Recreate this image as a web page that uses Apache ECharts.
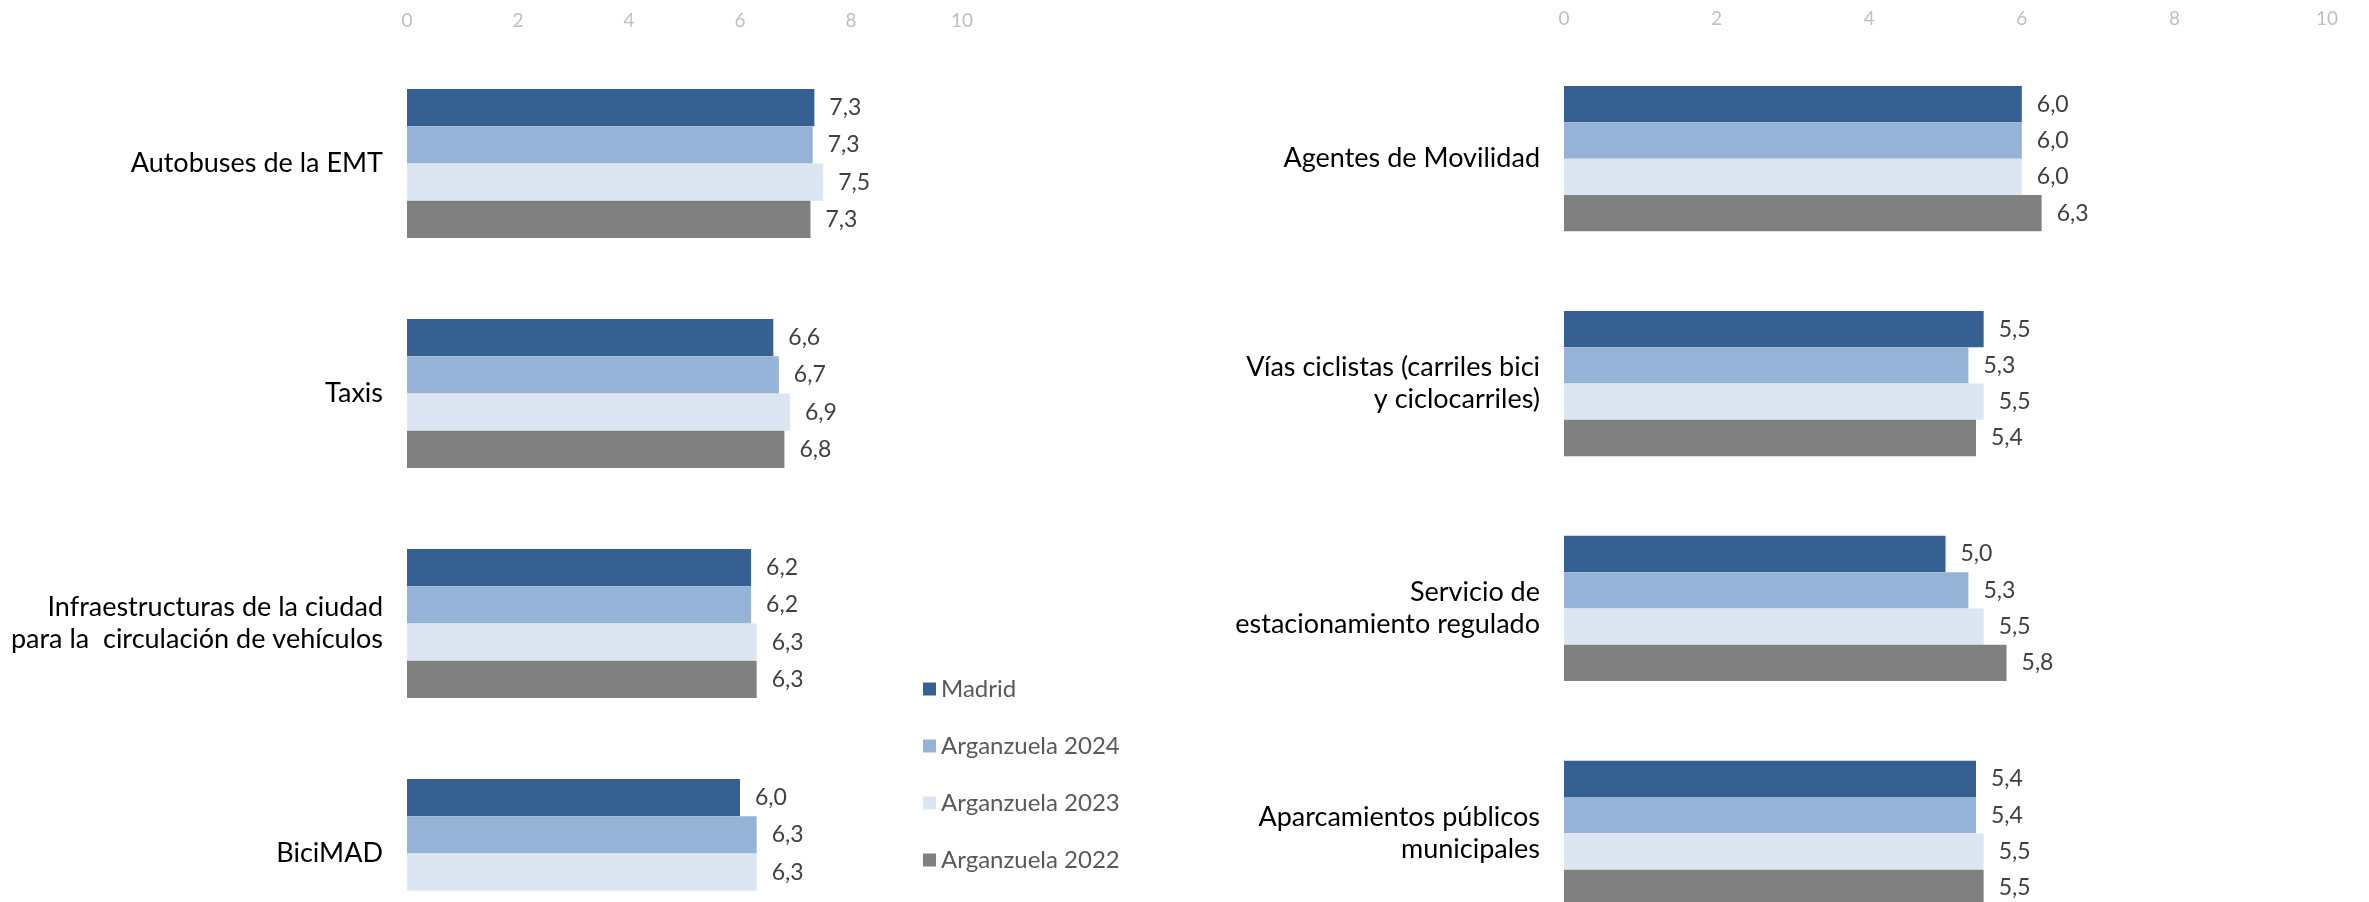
<!DOCTYPE html>
<html>
<head>
<meta charset="utf-8">
<script src="https://cdn.jsdelivr.net/npm/echarts@6/dist/echarts.min.js"></script>
<style>
  html, body { margin: 0; padding: 0; background: #fff; }
  #chart { width: 2369px; height: 902px; }
</style>
</head>
<body>
<div id="chart"></div>
<script>
const seriesNames = ['Madrid', 'Arganzuela 2024', 'Arganzuela 2023', 'Arganzuela 2022']
const colors = ['#376092', '#95B3D7', '#DCE6F2', '#808080']
const ticks = [0, 2, 4, 6, 8, 10]

const leftCategories = [
  'Autobuses de la EMT',
  'Taxis',
  'Infraestructuras de la ciudad\npara la  circulación de vehículos',
  'BiciMAD',
]
const leftMadrid = [7.34, 6.6, 6.2, 6.0]
const left2024 = [7.31, 6.7, 6.2, 6.3]
const left2023 = [7.5, 6.9, 6.3, 6.3]
const left2022 = [7.27, 6.8, 6.3, null]

const rightCategories = [
  'Agentes de Movilidad',
  'Vías ciclistas (carriles bici\ny ciclocarriles)',
  'Servicio de\nestacionamiento regulado',
  'Aparcamientos públicos\nmunicipales',
]
const rightMadrid = [6.0, 5.5, 5.0, 5.4]
const right2024 = [6.0, 5.3, 5.3, 5.4]
const right2023 = [6.0, 5.5, 5.5, 5.5]
const right2022 = [6.26, 5.4, 5.8, 5.5]

const font = 'Lato'

function valueAxis(gridIndex) {
  return {
    type: 'value',
    gridIndex,
    position: 'top',
    min: ticks[0],
    max: ticks[ticks.length - 1],
    interval: 2,
    axisLine: { show: false },
    axisTick: { show: false },
    splitLine: { show: false },
    axisLabel: { color: '#BFBFBF', fontFamily: font, fontSize: 19, margin: 18 },
  }
}

function categoryAxis(gridIndex, data) {
  return {
    type: 'category',
    gridIndex,
    data,
    inverse: true,
    axisLine: { show: false },
    axisTick: { show: false },
    axisLabel: {
      color: '#000',
      fontFamily: font,
      fontSize: 27,
      lineHeight: 32,
      margin: 24,
      align: 'right',
    },
  }
}

function bars(gridIndex, lists, barWidth) {
  return lists.map((data, i) => ({
    type: 'bar',
    name: seriesNames[i],
    xAxisIndex: gridIndex,
    yAxisIndex: gridIndex,
    data,
    barWidth,
    barGap: '0%',
    itemStyle: { color: colors[i] },
    label: {
      show: true,
      position: 'right',
      distance: 15,
      color: '#404040',
      fontFamily: font,
      fontSize: 23,
      formatter: (p) => p.value.toFixed(1).replace('.', ','),
    },
  }))
}

const chart = echarts.init(document.getElementById('chart'))
chart.setOption({
  animation: false,
  backgroundColor: '#fff',
  grid: [
    { left: 407, top: 48.5, width: 555, height: 920, outerBoundsMode: 'none', containLabel: false },
    { left: 1564, top: 46.2, width: 763, height: 899.6, outerBoundsMode: 'none', containLabel: false },
  ],
  xAxis: [valueAxis(0), valueAxis(1)],
  yAxis: [categoryAxis(0, leftCategories), categoryAxis(1, rightCategories)],
  legend: {
    orient: 'vertical',
    left: 918,
    top: 672,
    icon: 'rect',
    itemWidth: 13,
    itemHeight: 13,
    itemGap: 33,
    data: seriesNames,
    textStyle: { color: '#595959', fontFamily: font, fontSize: 24 },
  },
  series: [
    ...bars(0, [leftMadrid, left2024, left2023, left2022], 37.25),
    ...bars(1, [rightMadrid, right2024, right2023, right2022], 36.3),
  ],
})
</script>
</body>
</html>
